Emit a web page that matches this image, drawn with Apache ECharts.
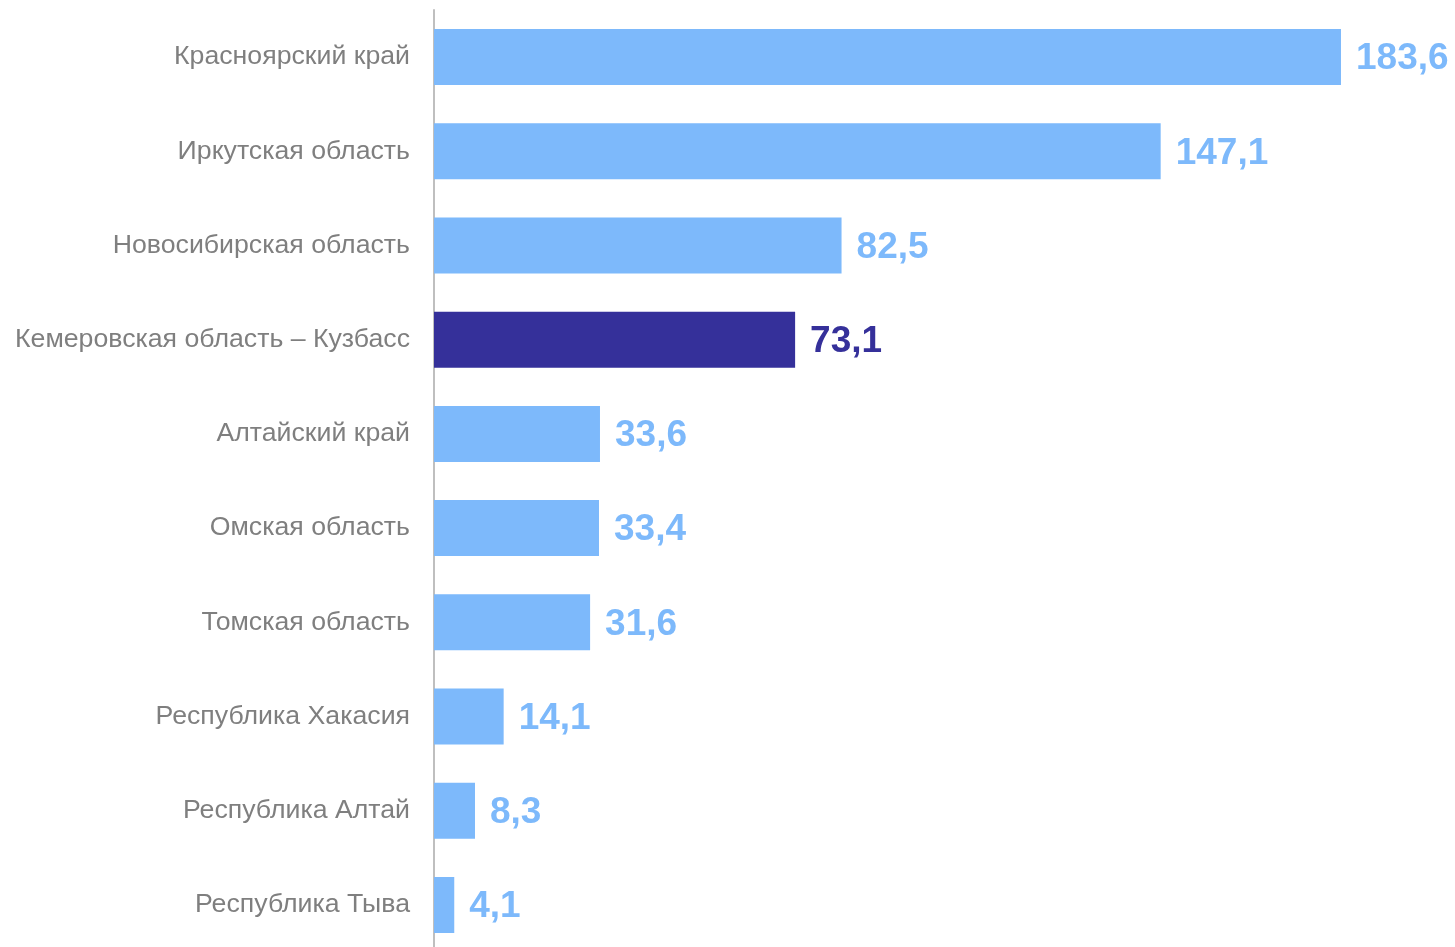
<!DOCTYPE html>
<html><head><meta charset="utf-8">
<script src="https://cdn.jsdelivr.net/npm/echarts@6/dist/echarts.min.js"></script>
<style>html,body{margin:0;padding:0;background:#fff;overflow:hidden}#c{width:1455px;height:960px}</style>
</head><body><div id="c"></div>
<script>
const categories = ['Красноярский край','Иркутская область','Новосибирская область','Кемеровская область – Кузбасс','Алтайский край','Омская область','Томская область','Республика Хакасия','Республика Алтай','Республика Тыва'];
const values = [183.6,147.1,82.5,73.1,33.6,33.4,31.6,14.1,8.3,4.1];
const highlight = 'Кемеровская область – Кузбасс';
const light = '#7DB9FB', dark = '#35309A';
const chart = echarts.init(document.getElementById('c'));
chart.setOption({
  animation:false,
  grid:{left:434,top:10,right:33,height:942,containLabel:false},
  xAxis:{type:'value',min:0,max:200,show:false},
  yAxis:{type:'category',inverse:true,data:categories,
    axisLine:{show:true,lineStyle:{color:'#BFBFBF',width:2}},
    axisTick:{show:false},
    axisLabel:{fontFamily:'Liberation Sans, Arial',fontSize:26.7,color:'#7F7F7F',margin:24,padding:[3,0,0,0]}},
  series:[{type:'bar',barWidth:56,
    data:values.map((v,i)=>({value:v,itemStyle:{color:categories[i]===highlight?dark:light},
      label:{color:categories[i]===highlight?dark:light}})),
    label:{show:true,position:'right',distance:15,offset:[0,2],fontFamily:'Liberation Sans, Arial',fontSize:37,fontWeight:'bold',
      formatter:p=>String(p.value).replace('.',',')}
  }]
});
</script></body></html>
